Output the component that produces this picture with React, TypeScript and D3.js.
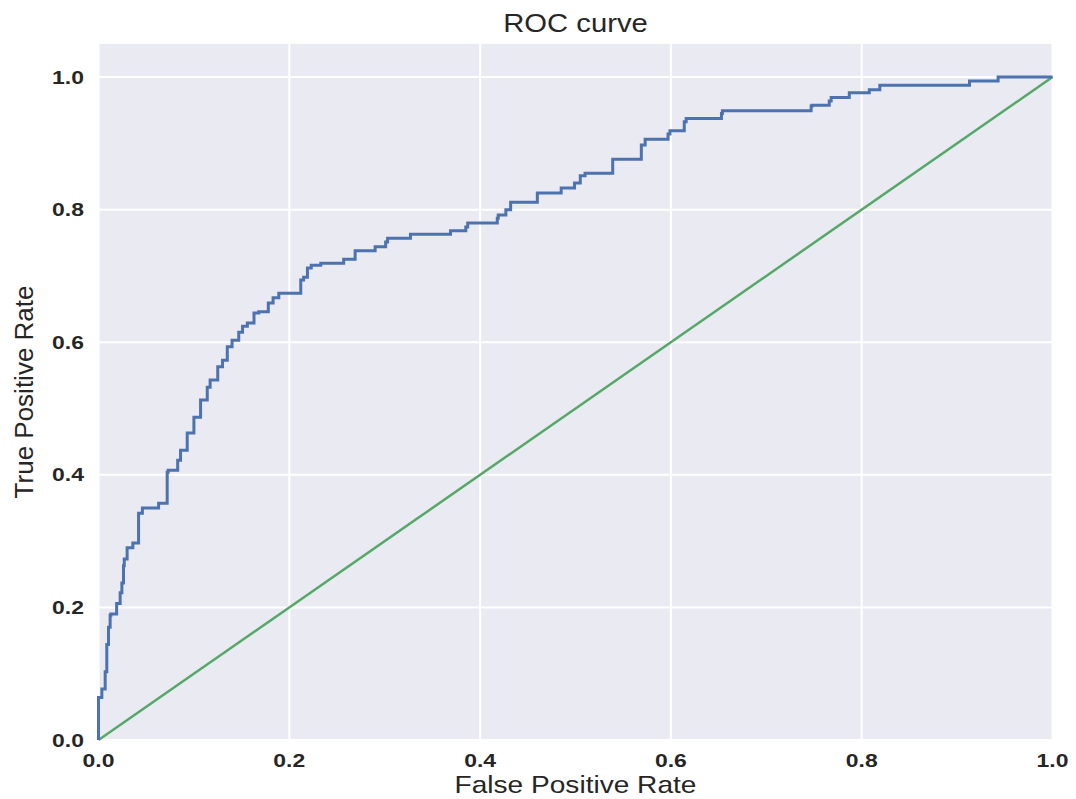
import * as d3 from 'd3';

// ROC points: [false positive rate, true positive rate]
const rocPoints: [number, number][] = [
  [0, 0], [0, 0.052], [0.0035, 0.064], [0.007, 0.077], [0.0087, 0.103], [0.0105, 0.144],
  [0.0122, 0.17], [0.013, 0.188], [0.019, 0.19], [0.0227, 0.206], [0.0245, 0.222],
  [0.0262, 0.237], [0.027, 0.263], [0.03, 0.273], [0.036, 0.29], [0.042, 0.297],
  [0.046, 0.342], [0.05, 0.35], [0.063, 0.35], [0.064, 0.357], [0.072, 0.357],
  [0.073, 0.404], [0.083, 0.407], [0.086, 0.422], [0.093, 0.437], [0.1, 0.463],
  [0.107, 0.487], [0.114, 0.513], [0.117, 0.532], [0.125, 0.543], [0.13, 0.563],
  [0.135, 0.573], [0.14, 0.593], [0.147, 0.603], [0.151, 0.615], [0.156, 0.624],
  [0.163, 0.629], [0.168, 0.644], [0.178, 0.646], [0.183, 0.659], [0.189, 0.667],
  [0.198, 0.674], [0.212, 0.674], [0.215, 0.694], [0.219, 0.698], [0.223, 0.712],
  [0.233, 0.716], [0.235, 0.719], [0.257, 0.719], [0.259, 0.725], [0.269, 0.725],
  [0.27, 0.738], [0.29, 0.738], [0.292, 0.744], [0.301, 0.744], [0.303, 0.751],
  [0.306, 0.757], [0.327, 0.757], [0.329, 0.763], [0.369, 0.763], [0.37, 0.768],
  [0.385, 0.768], [0.387, 0.774], [0.397, 0.78], [0.418, 0.78], [0.419, 0.787],
  [0.427, 0.792], [0.432, 0.8], [0.435, 0.811], [0.46, 0.811], [0.46, 0.82],
  [0.471, 0.825], [0.485, 0.825], [0.486, 0.8325], [0.499, 0.8325], [0.505, 0.84],
  [0.51, 0.851], [0.522, 0.855], [0.539, 0.855], [0.54, 0.876], [0.569, 0.876],
  [0.573, 0.8975], [0.578, 0.906], [0.597, 0.906], [0.599, 0.914], [0.614, 0.919],
  [0.616, 0.9325], [0.623, 0.9375], [0.653, 0.9375], [0.654, 0.945], [0.668, 0.949],
  [0.747, 0.949], [0.748, 0.9565], [0.766, 0.9575], [0.768, 0.964], [0.774, 0.969],
  [0.787, 0.969], [0.788, 0.9765], [0.808, 0.9765], [0.809, 0.981], [0.819, 0.981],
  [0.819, 0.9875], [0.913, 0.9875], [0.914, 0.994], [0.943, 0.994], [0.944, 1.0],
  [1, 1],
];

// chance line
const diagonal: [number, number][] = [[0, 0], [1, 1]];

const xTicks = [0, 0.2, 0.4, 0.6, 0.8, 1.0];
const yTicks = [0, 0.2, 0.4, 0.6, 0.8, 1.0];

const title = 'ROC curve';
const xLabel = 'False Positive Rate';
const yLabel = 'True Positive Rate';

export default function App() {
  const width = 1076;
  const height = 799;
  const left = 98.5, right = 1052.5, top = 43.9, bottom = 740;

  const x = d3.scaleLinear().domain([0, 1]).range([left, right]);
  const y = d3.scaleLinear().domain([0, 1.05]).range([bottom, top]);

  const line = d3.line<[number, number]>()
    .x(d => x(d[0]))
    .y(d => y(d[1]));

  // the roc curve climbs first, then runs across
  const stepLine = d3.line<[number, number]>()
    .x(d => x(d[0]))
    .y(d => y(d[1]))
    .curve(d3.curveStepBefore);

  const font = '"Liberation Sans", Arial, sans-serif';
  const ink = '#262626';

  return (
    <svg width={width} height={height}
      style={{ position: 'absolute', left: 0, top: 0, background: '#fff', fontFamily: font }}>
      <rect x={left} y={top} width={right - left} height={bottom - top} fill="#EAEAF2" />

      {/* grid */}
      {xTicks.map(t => (
        <line key={'gx' + t} x1={x(t)} x2={x(t)} y1={top} y2={bottom} stroke="#fff" strokeWidth={2} />
      ))}
      {yTicks.map(t => (
        <line key={'gy' + t} x1={left} x2={right} y1={y(t)} y2={y(t)} stroke="#fff" strokeWidth={2} />
      ))}

      <path d={line(diagonal) ?? ''} fill="none" stroke="#55A868" strokeWidth={2.5} />
      <path d={stepLine(rocPoints) ?? ''} fill="none" stroke="#4C72B0" strokeWidth={3} />

      {/* tick labels */}
      {xTicks.map(t => (
        <text key={'tx' + t} transform={`translate(${x(t)},767) scale(1.24,1)`}
          textAnchor="middle" fontSize={18.5} fontWeight="bold" fill={ink}>
          {d3.format('.1f')(t)}
        </text>
      ))}
      {yTicks.map(t => (
        <text key={'ty' + t} transform={`translate(84,${y(t)}) scale(1.24,1)`}
          dy="0.36em" textAnchor="end" fontSize={18.5} fontWeight="bold" fill={ink}>
          {d3.format('.1f')(t)}
        </text>
      ))}

      <text transform={`translate(${(left + right) / 2},32) scale(1.17,1)`}
        textAnchor="middle" fontSize={25} fill={ink}>{title}</text>
      <text transform={`translate(${(left + right) / 2},793) scale(1.17,1)`}
        textAnchor="middle" fontSize={24} fill={ink}>{xLabel}</text>
      <text transform={`translate(33,${(top + bottom) / 2}) rotate(-90)`}
        textAnchor="middle" fontSize={26} fill={ink}>{yLabel}</text>
    </svg>
  );
}
